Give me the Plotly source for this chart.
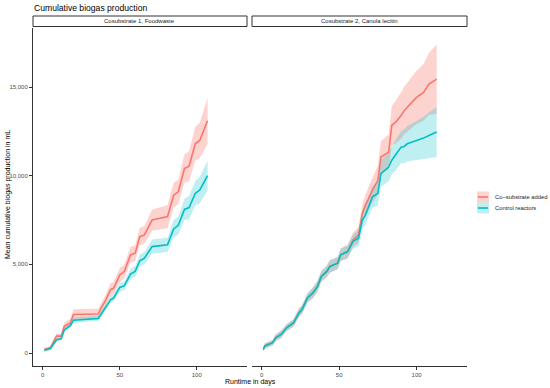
import plotly.graph_objects as go

W, H = 550, 388

# ---------------- data ----------------
days_p1 = [1, 5, 9, 12, 14, 18, 20, 36, 38, 41, 44, 46, 50, 53, 57, 60, 63, 66, 71, 81, 85, 88, 92, 95, 99, 102, 107]
cosub_p1 = [200, 300, 950, 950, 1500, 1700, 2170, 2200, 2540, 3000, 3570, 3650, 4400, 4600, 5540, 5630, 6560, 6660,
            7500, 7690, 8900, 9090, 10400, 10530, 11800, 12000, 13100]
cosub_p1_spread = [100, 100, 150, 150, 200, 250, 300, 300, 300, 300, 350, 350, 400, 400, 450, 450, 500, 500,
                   600, 650, 700, 700, 800, 850, 950, 1000, 1300]
control_p1 = [150, 250, 750, 800, 1300, 1550, 1850, 1950, 2200, 2600, 3000, 3100, 3700, 3800, 4450, 4600, 5200, 5350,
              6000, 6100, 7000, 7200, 8100, 8200, 9000, 9200, 10000]
control_p1_spread = [80, 80, 100, 100, 120, 120, 150, 150, 150, 150, 200, 200, 250, 250, 300, 300, 350, 350,
                     400, 400, 500, 500, 600, 650, 700, 750, 850]

days_p2 = [1, 2, 7, 9, 12.5, 16, 20.5, 24, 26, 29.5, 33, 36, 38.5, 42, 44, 49, 51, 55.5, 59, 62.5, 65, 67, 71.5,
           75, 77, 82, 84, 86.5, 90, 92, 94, 100, 104.5, 108, 113]
cosub_p2 = [200, 400, 580, 860, 1050, 1420, 1700, 2260, 2450, 3100, 3390, 3760, 4320, 4600, 4880, 5070, 5540, 5720,
            6380, 6660, 7870, 8340, 9180, 9740, 11050, 11330, 12830, 13020, 13390, 13670, 13860, 14420, 14700,
            15170, 15450]
cosub_p2_spread = [100, 150, 150, 200, 200, 200, 200, 250, 250, 250, 300, 300, 300, 350, 350, 350, 350, 400, 400,
                   450, 500, 600, 700, 800, 900, 1000, 1100, 1200, 1300, 1350, 1400, 1500, 1600, 1750, 1950]
control_p2 = [200, 400, 580, 860, 1050, 1420, 1700, 2260, 2450, 3100, 3390, 3760, 4320, 4600, 4880, 5070, 5540, 5720,
              6300, 6470, 7500, 7780, 8810, 9000, 10120, 10490, 10870, 11150, 11610, 11650, 11800, 11990, 12120,
              12270, 12460]
control_p2_spread = [100, 150, 150, 200, 200, 200, 200, 250, 250, 250, 300, 300, 300, 300, 350, 350, 350, 350, 400,
                     450, 500, 550, 600, 700, 750, 800, 800, 850, 900, 950, 1000, 1100, 1200, 1300, 1400]

panel_titles = ["Cosubstrate 1, Foodwaste", "Cosubstrate 2, Canola lecitin"]
series_names = ["Co\u2212substrate added", "Control reactors"]
y_ticks = [0, 5000, 10000, 15000]
y_ticklabels = ["0", "5,000", "10,000", "15,000"]
x_ticks = [0, 50, 100]

RED, TEAL = "#F8766D", "#00BFC4"
RED_FILL, TEAL_FILL = "rgba(248,118,109,0.32)", "rgba(0,191,196,0.25)"

FONT = "Liberation Sans, Arial, sans-serif"


def fx(p):  # pixel x -> paper fraction
    return p / W


def fy(p):  # pixel y (from top) -> paper fraction
    return (H - p) / H


fig = go.Figure()

panels = [
    ("x", "y", days_p1, [(cosub_p1, cosub_p1_spread), (control_p1, control_p1_spread)]),
    ("x2", "y2", days_p2, [(cosub_p2, cosub_p2_spread), (control_p2, control_p2_spread)]),
]
colors = [(RED, RED_FILL), (TEAL, TEAL_FILL)]

# ribbons first
for xa, ya, days, series in panels:
    for (mean, spread), (lc, fc) in zip(series, colors):
        lower = [m - s for m, s in zip(mean, spread)]
        upper = [m + s for m, s in zip(mean, spread)]
        fig.add_trace(go.Scatter(x=days, y=lower, xaxis=xa, yaxis=ya, mode="lines",
                                 line=dict(width=0), showlegend=False, hoverinfo="skip"))
        fig.add_trace(go.Scatter(x=days, y=upper, xaxis=xa, yaxis=ya, mode="lines",
                                 line=dict(width=0), fill="tonexty", fillcolor=fc,
                                 showlegend=False, hoverinfo="skip"))

# lines on top
for pi, (xa, ya, days, series) in enumerate(panels):
    for si, ((mean, spread), (lc, fc)) in enumerate(zip(series, colors)):
        fig.add_trace(go.Scatter(x=days, y=mean, xaxis=xa, yaxis=ya, mode="lines",
                                 line=dict(color=lc, width=1.6),
                                 name=series_names[si], showlegend=False))

# geometry (pixels)
px1 = (33, 247)
px2 = (252, 467)
py = (28, 366)  # top, bottom
xd1 = [fx(px1[0]), fx(px1[1])]
xd2 = [fx(px2[0]), fx(px2[1])]
yd = [fy(py[1]), fy(py[0])]

xr = [-6.3, 132.6]
yr = [-733, 18330]

common_x = dict(range=xr, tickvals=x_ticks, ticks="outside", ticklen=3, tickcolor="#333333",
                tickfont=dict(size=6, color="#4d4d4d", family=FONT), showgrid=False, zeroline=False,
                showline=True, linecolor="#333333", linewidth=1)
fig.update_layout(
    width=W, height=H,
    margin=dict(l=0, r=0, t=0, b=0),
    paper_bgcolor="white", plot_bgcolor="white",
    font=dict(family=FONT),
    xaxis=dict(domain=xd1, anchor="y", **common_x),
    xaxis2=dict(domain=xd2, anchor="y2", **common_x),
    yaxis=dict(domain=yd, anchor="x", range=yr, tickvals=y_ticks, ticktext=y_ticklabels,
               ticks="outside", ticklen=3, tickcolor="#333333",
               tickfont=dict(size=6, color="#4d4d4d", family=FONT), showgrid=False, zeroline=False,
               showline=True, linecolor="#333333", linewidth=1),
    yaxis2=dict(domain=yd, anchor="x2", range=yr, matches="y", showticklabels=False, ticks="",
                showgrid=False, zeroline=False, showline=False),
    showlegend=False,
)

shapes = []
annotations = []
# facet strips
for (x0, x1), title in zip([px1, px2], panel_titles):
    shapes.append(dict(type="rect", xref="paper", yref="paper",
                       x0=fx(x0), x1=fx(x1), y0=fy(26.5), y1=fy(16),
                       line=dict(color="#333333", width=1), fillcolor="white"))
    annotations.append(dict(text=title, xref="paper", yref="paper", x=fx((x0 + x1) / 2),
                            y=fy(21.3), showarrow=False, xanchor="center", yanchor="middle",
                            font=dict(size=6, color="#1a1a1a", family=FONT)))

# legend (ggplot-style keys: filled box with line through it)
leg_x0, leg_x1 = 477, 489
for i, (name, (lc, fc)) in enumerate(zip(series_names, colors)):
    yc = 197 + 11 * i
    shapes.append(dict(type="rect", xref="paper", yref="paper",
                       x0=fx(leg_x0), x1=fx(leg_x1), y0=fy(yc + 5.5), y1=fy(yc - 5.5),
                       line=dict(width=0), fillcolor=fc))
    shapes.append(dict(type="line", xref="paper", yref="paper",
                       x0=fx(leg_x0 + 1), x1=fx(leg_x1 - 1), y0=fy(yc), y1=fy(yc),
                       line=dict(color=lc, width=1.6)))
    annotations.append(dict(text=name, xref="paper", yref="paper", x=fx(493), y=fy(yc),
                            showarrow=False, xanchor="left", yanchor="middle",
                            font=dict(size=5.8, color="#1a1a1a", family=FONT)))

annotations.append(dict(text="Cumulative biogas production", xref="paper", yref="paper",
                        x=fx(32), y=fy(7.5), showarrow=False, xanchor="left", yanchor="middle",
                        font=dict(size=8.6, color="#000000", family=FONT)))
annotations.append(dict(text="Runtime in days", xref="paper", yref="paper",
                        x=fx((px1[0] + px2[1]) / 2), y=fy(381.5), showarrow=False,
                        xanchor="center", yanchor="middle",
                        font=dict(size=7, color="#000000", family=FONT)))
annotations.append(dict(text="Mean cumulative biogas production in mL", xref="paper", yref="paper",
                        x=fx(8), y=fy(195), showarrow=False, textangle=-90,
                        xanchor="center", yanchor="middle",
                        font=dict(size=7, color="#000000", family=FONT)))
fig.update_layout(shapes=shapes, annotations=annotations)

fig.write_html("out.html", config={"displayModeBar": False},
               post_script="document.body.style.margin='0px';")
